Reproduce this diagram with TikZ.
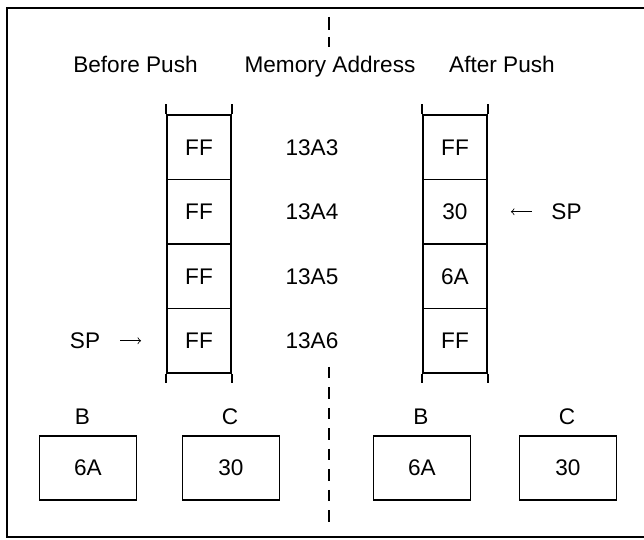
\documentclass[tikz,border=0pt]{standalone}
\usepackage{fontspec}
\setmainfont{Liberation Sans}

\begin{document}
\begin{tikzpicture}[x=0.5pt, y=-0.5pt, font=\fontsize{11.3}{13}\selectfont,
    cell/.style={draw, line width=0.9pt, minimum width=32pt, minimum height=32.25pt, inner sep=0pt},
    reg/.style={draw, line width=0.9pt, minimum width=48.5pt, minimum height=32pt, inner sep=0pt},
    lbl/.style={inner sep=0pt}]
    \useasboundingbox (0,0) rectangle (644,540);
    \draw[line width=1pt] (660,8) -- (7,8) -- (7,537) -- (660,537);

    % divider
    \coordinate (d0) at (329,17);
    \coordinate (d1) at (329,47);
    \coordinate (d2) at (329,367);
    \coordinate (d3) at (329,525);
    \draw[line width=0.8pt, dash pattern=on 6.5pt off 3.5pt] (d0) -- (d1);
    \draw[line width=0.8pt, dash pattern=on 5.75pt off 4.5pt] (d2) -- (d3);

    \node[anchor=base] (hb) at (135.5,73) {Before Push};
    \node[anchor=base] (hm) at (330,73) {Memory Address};
    \node[anchor=base] (ha) at (502,73) {After Push};

    % stack before
    \node[cell] (b1) at (199,147.25) {FF};
    \node[cell] (b2) at (199,211.75) {FF};
    \node[cell] (b3) at (199,276.25) {FF};
    \node[cell] (b4) at (199,340.75) {FF};
    % stack after
    \node[cell] (a1) at (455,147.25) {FF};
    \node[cell] (a2) at (455,211.75) {30};
    \node[cell] (a3) at (455,276.25) {6A};
    \node[cell] (a4) at (455,340.75) {FF};

    \draw[line width=0.9pt] (b1.north west) -- ++(0,-10);
    \draw[line width=0.9pt] (b1.north east) -- ++(0,-10);
    \draw[line width=0.9pt] (b4.south west) -- ++(0,9);
    \draw[line width=0.9pt] (b4.south east) -- ++(0,9);
    \draw[line width=0.9pt] (a1.north west) -- ++(0,-10);
    \draw[line width=0.9pt] (a1.north east) -- ++(0,-10);
    \draw[line width=0.9pt] (a4.south west) -- ++(0,9);
    \draw[line width=0.9pt] (a4.south east) -- ++(0,9);

    % addresses
    \node (m1) at (312,147.25) {13A3};
    \node (m2) at (312,211.75) {13A4};
    \node (m3) at (312,276.25) {13A5};
    \node (m4) at (312,340.75) {13A6};

    % stack pointers
    \node[lbl] (spl) at (85,340.75) {SP};
    \node[lbl] (spr) at (566.5,211.75) {SP};
    \draw[->, shorten <=10pt, shorten >=12.5pt] (spl) -- (b4);
    \draw[->, shorten <=9.75pt, shorten >=11.5pt] (spr) -- (a2);

    % registers
    \node[anchor=base] (lb) at (82.5,424) {B};
    \node[anchor=base] (lc) at (230,424) {C};
    \node[anchor=base] (rb) at (421,424) {B};
    \node[anchor=base] (rc) at (567,424) {C};
    \node[reg] (rb1) at (88,468) {6A};
    \node[reg] (rc1) at (231,468) {30};
    \node[reg] (rb2) at (422,468) {6A};
    \node[reg] (rc2) at (568,468) {30};
\end{tikzpicture}
\end{document}
